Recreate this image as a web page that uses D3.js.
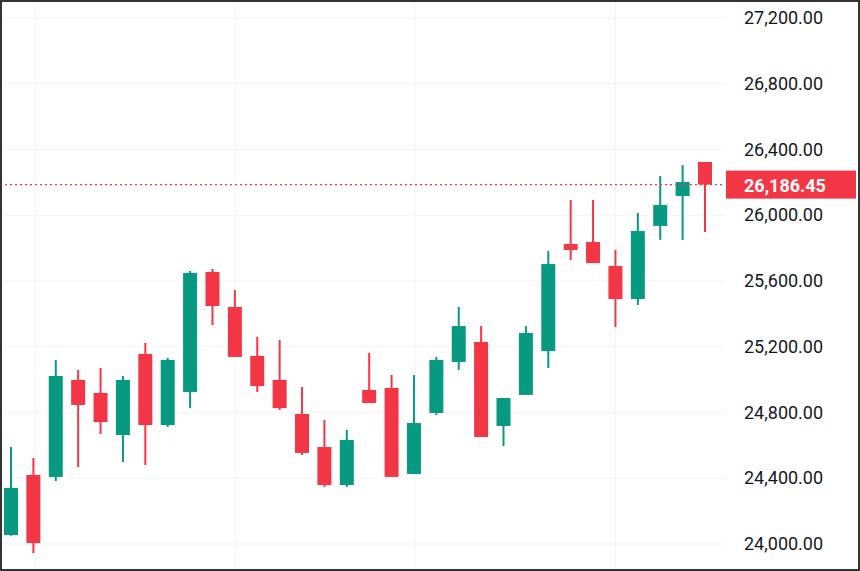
<!DOCTYPE html>
<html><head><meta charset="utf-8">
<script src="https://cdn.jsdelivr.net/npm/d3@7"></script>
<style>body{margin:0;background:#fff}svg{display:block;font-family:Roboto,"Liberation Sans",sans-serif}</style>
</head><body><svg width="860" height="571"></svg>
<script>
var opens  = [24055,24420,24408,24998,24919,24663,25156,24724,24925,25655,25442,25144,24998,24791,24590,24359,24937,24949,24426,24797,25107,25229,24718,24907,25174,25825,25837,25691,25490,25935,26117,26324];
var closes = [24341,24006,25022,24846,24742,24998,24724,25120,25649,25448,25138,24961,24827,24554,24359,24633,24858,24408,24736,25120,25326,24651,24888,25284,25703,25789,25709,25490,25904,26062,26202,26186.45];
var highs  = [24590,24523,25120,25059,25071,25022,25223,25132,25661,25673,25545,25260,25241,24955,24754,24694,25162,25028,25028,25138,25442,25326,24888,25326,25783,26093,26093,25789,26014,26239,26306,26324];
var lows   = [24050,23945,24383,24468,24669,24499,24481,24712,24827,25332,25138,24925,24815,24542,24347,24347,24858,24408,24426,24785,25059,24651,24596,24907,25071,25728,25709,25320,25454,25850,25850,25898];
var yTicks = [24000,24400,24800,25200,25600,26000,26400,26800,27200];
var vGridIdx = [1.07,10,18.04,27];
var lastPrice = 26186.45;

var svg = d3.select('svg');
var up = '#089981', down = '#f23645';
var x = d3.scaleLinear().domain([0,31]).range([11,705]);
var y = d3.scaleLinear().domain([24000,27200]).range([544,18]);
var fmt = d3.format(',.2f');

svg.selectAll('.hg').data(yTicks).enter().append('line')
    .attr('x1',0).attr('x2',725).attr('y1',function(d){return y(d);}).attr('y2',function(d){return y(d);})
    .attr('stroke','#f0f3fa').attr('stroke-width',1);
svg.selectAll('.vg').data(vGridIdx).enter().append('line')
    .attr('x1',function(d){return x(d);}).attr('x2',function(d){return x(d);}).attr('y1',0).attr('y2',571)
    .attr('stroke','#f0f3fa').attr('stroke-width',1);

svg.selectAll('.yl').data(yTicks).enter().append('text')
    .attr('x',744).attr('y',function(d){return y(d)+6;})
    .attr('font-size',18).attr('fill','#131722').text(fmt);

var idx = d3.range(opens.length);
svg.selectAll('.wick').data(idx).enter().append('line')
    .attr('x1',function(i){return x(i);}).attr('x2',function(i){return x(i);})
    .attr('y1',function(i){return y(highs[i]);}).attr('y2',function(i){return y(lows[i]);})
    .attr('stroke',function(i){return closes[i]>=opens[i]?up:down;}).attr('stroke-width',2);
svg.selectAll('.body').data(idx).enter().append('rect')
    .attr('x',function(i){return x(i)-7;}).attr('width',14)
    .attr('y',function(i){return y(Math.max(opens[i],closes[i]));})
    .attr('height',function(i){return Math.max(2,Math.abs(y(opens[i])-y(closes[i])));})
    .attr('fill',function(i){return closes[i]>=opens[i]?up:down;});

svg.append('line').attr('x1',0).attr('x2',725).attr('y1',y(lastPrice)).attr('y2',y(lastPrice))
    .attr('stroke',down).attr('stroke-width',1.2).attr('stroke-dasharray','2,3');
svg.append('rect').attr('x',726).attr('y',y(lastPrice)-14).attr('width',130).attr('height',28).attr('fill',down);
svg.append('text').attr('x',744).attr('y',y(lastPrice)+7).attr('font-size',18).attr('font-weight','bold')
    .attr('fill','#fff').text(fmt(lastPrice));

svg.append('rect').attr('x',1).attr('y',1).attr('width',858).attr('height',569)
    .attr('fill','none').attr('stroke','#333').attr('stroke-width',2);
</script></body></html>
